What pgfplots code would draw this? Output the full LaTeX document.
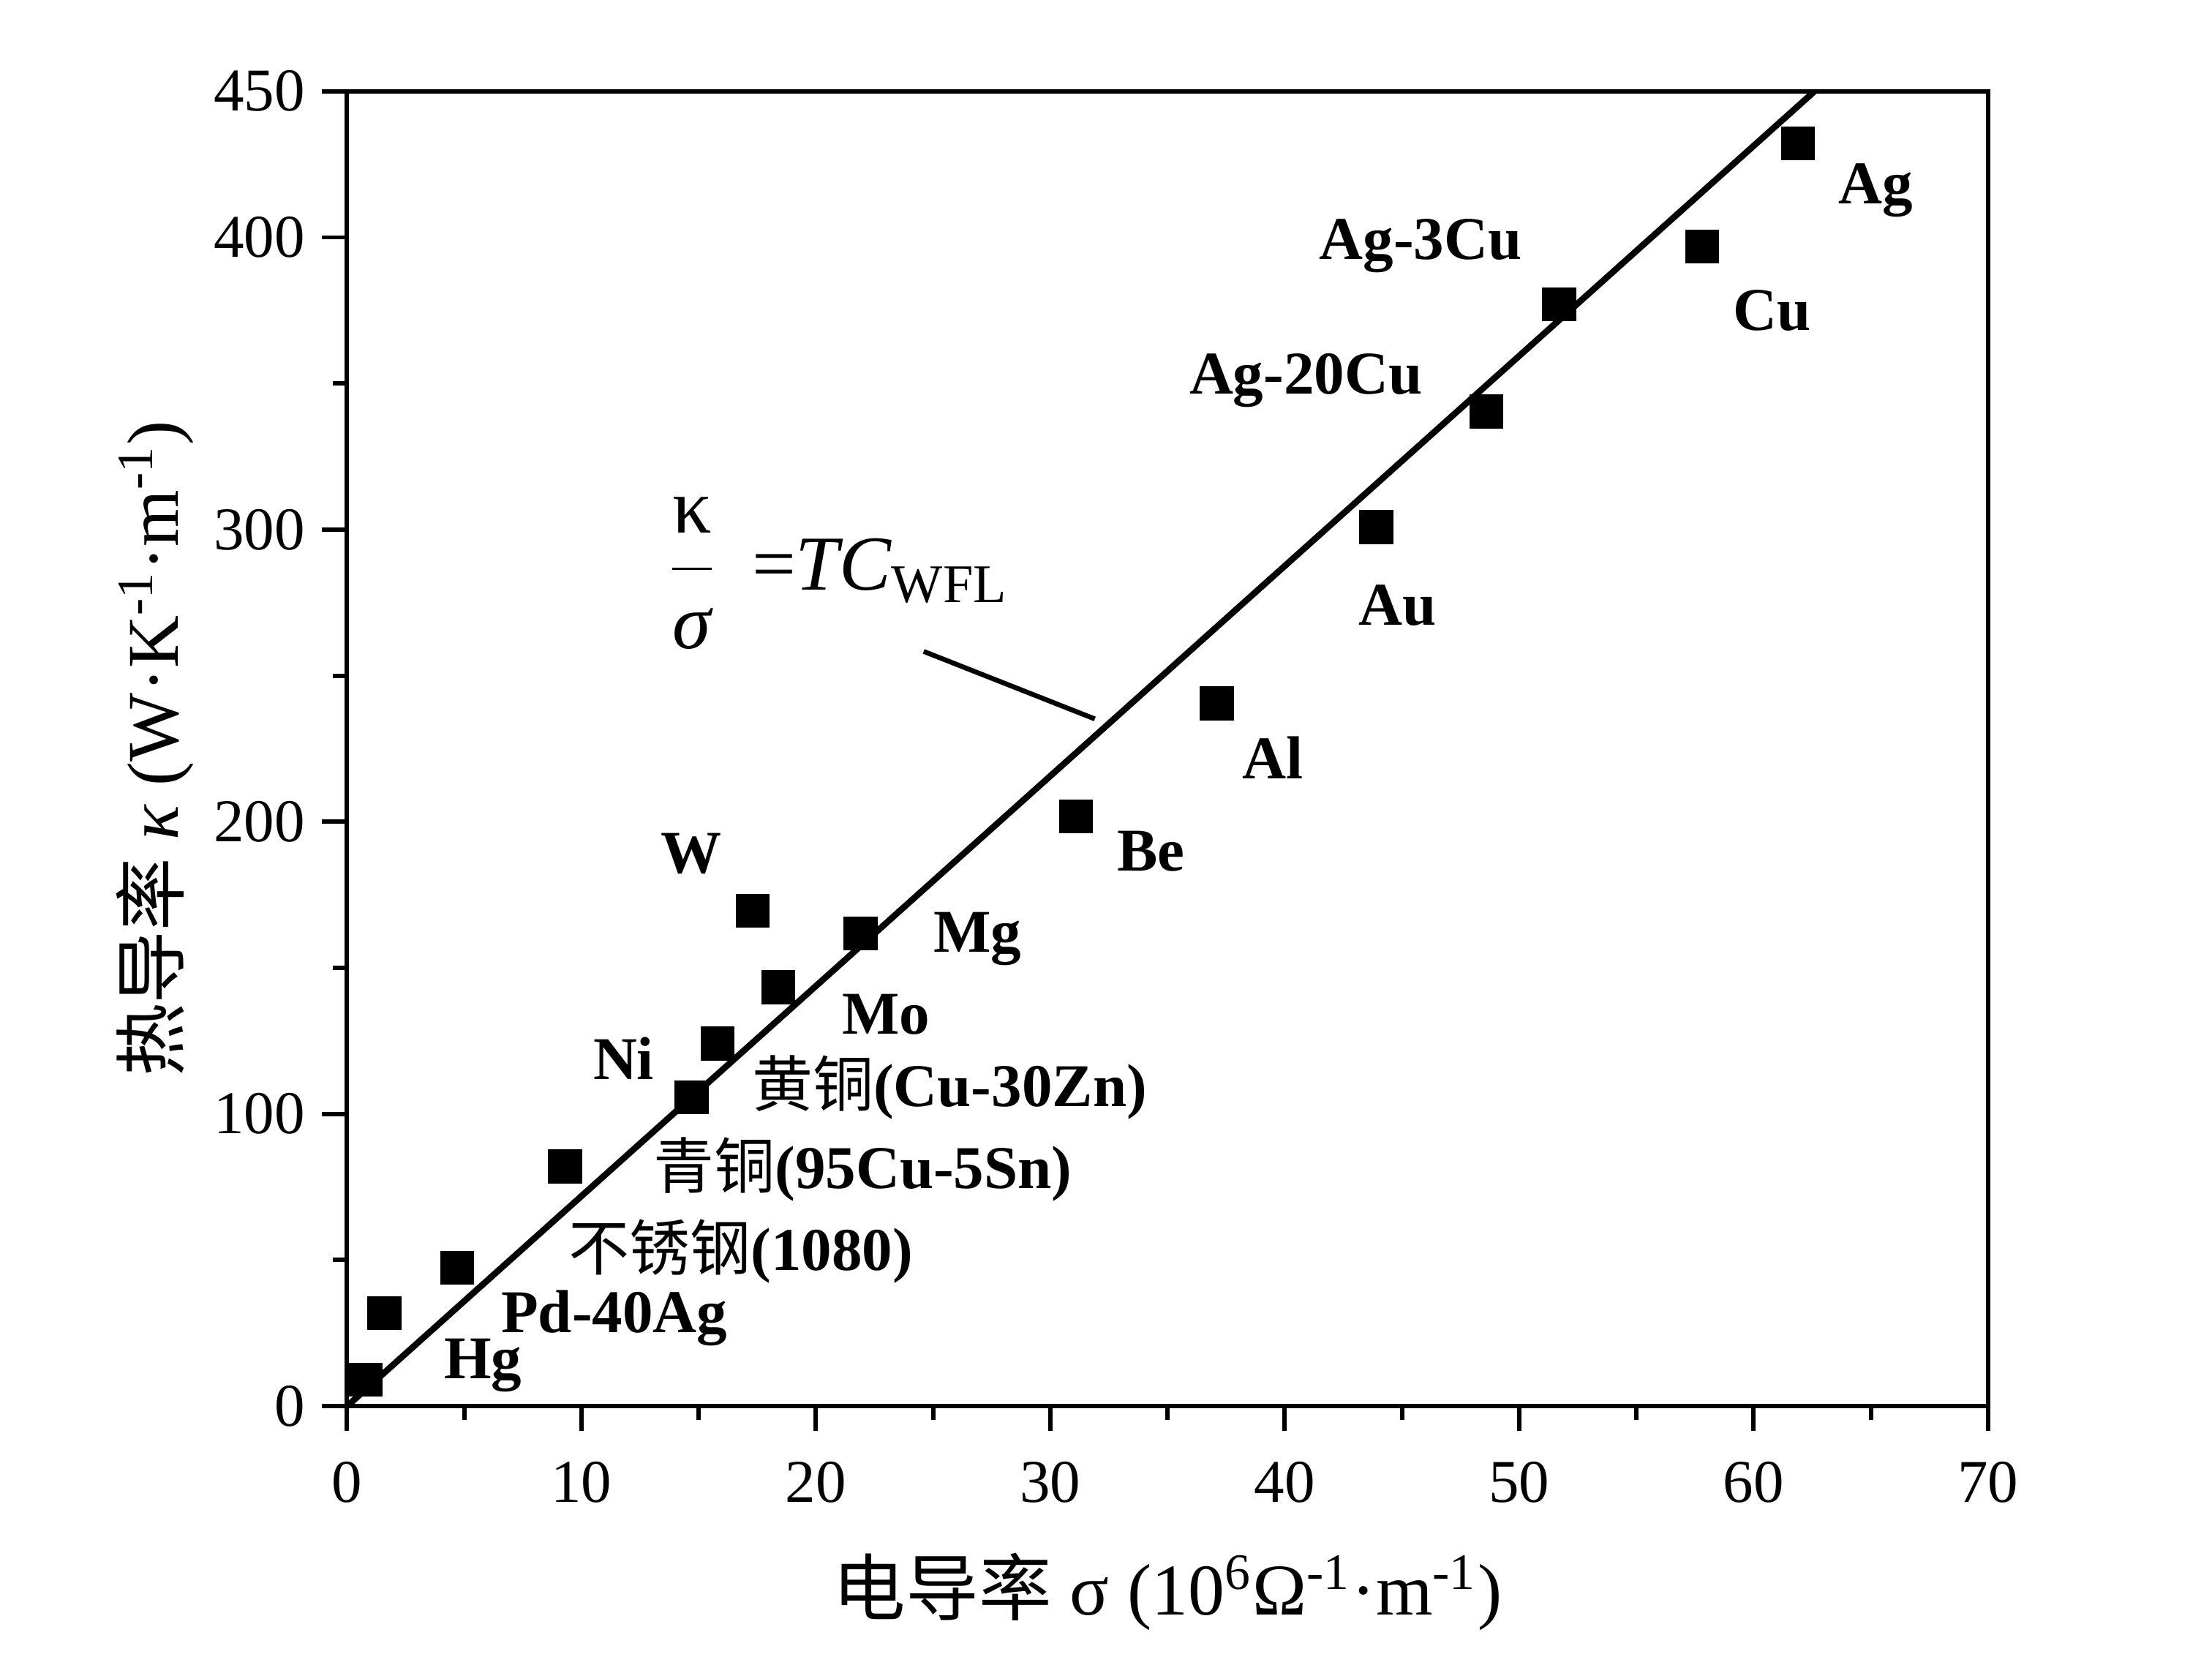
\documentclass[border=0pt]{standalone}
\usepackage{fontspec}
\setmainfont{Liberation Serif}
\newfontfamily\cjk{Noto Sans CJK SC}
\usepackage{pgfplots}
\pgfplotsset{compat=1.18}
\begin{document}
\begin{tikzpicture}
\useasboundingbox (-2.51,-1.867) rectangle (13.49,10.17);
\begin{axis}[
  at={(0,0)}, anchor=south west,
  scale only axis, width=11.87cm, height=9.51cm,
  xmin=0, xmax=70, ymin=0, ymax=450,
  xtick={0,10,...,70}, ytick={0,100,200,300,400,450},
  minor xtick={5,15,...,65}, minor ytick={50,150,250,350},
  tick align=outside, xtick pos=left, ytick pos=left,
  major tick length=0.18cm, minor tick length=0.1cm,
  axis line style={line width=0.9pt},
  every tick/.style={black, line width=0.9pt},
  tick label style={font=\fontsize{12.5}{13}\selectfont},
  xticklabel style={yshift=-0.1cm},
  /pgf/number format/assume math mode=true,
  clip=false,
  xlabel={{\cjk 电导率} σ (10\textsuperscript{6}Ω\textsuperscript{-1}·m\textsuperscript{-1})},
  ylabel={{\cjk 热导率} \textit{κ} (W·K\textsuperscript{-1}·m\textsuperscript{-1})},
  label style={font=\fontsize{15}{16}\selectfont},
  xlabel style={at={(axis description cs:0.5,-0.141)}, anchor=center},
  ylabel style={at={(axis description cs:-0.117,0.5)}, anchor=center},
]
\addplot[only marks, mark=square*, mark size=3.3pt, black] coordinates {
(0.8,9) (1.6,31.9) (4.7,47.3) (9.3,82.1) (14.7,105.7) (15.8,124.1)
(17.3,169.5) (18.4,143.4) (21.9,161.8) (31.1,201.8) (37.1,240.5)
(43.9,300.8) (48.6,340.4) (51.7,377.1) (57.8,396.9) (61.9,432.2)
};
\addplot[black, line width=1.3pt] coordinates {(0,0) (62.6,450)};
\draw[black, line width=1pt] (axis cs:24.6,258.3) -- (axis cs:31.9,235.2);
\node[anchor=west, font=\fontsize{16}{17}\selectfont] at (axis cs:12.9,285)
  {$\displaystyle\frac{\mbox{κ}\rule[-4pt]{0pt}{1pt}}{\rule{0pt}{15pt}\mbox{\itshape σ}}$\;\,=\textit{TC}\textsubscript{WFL}};
\begin{scope}[every node/.style={font=\bfseries\fontsize{12.5}{13}\selectfont}]
\node at (axis cs:65.2,416) {Ag};
\node at (axis cs:60.8,375) {Cu};
\node at (axis cs:45.8,397) {Ag-3Cu};
\node at (axis cs:40.9,351) {Ag-20Cu};
\node at (axis cs:44.8,274) {Au};
\node at (axis cs:39.5,222) {Al};
\node at (axis cs:34.3,190) {Be};
\node at (axis cs:26.9,160) {Mg};
\node at (axis cs:23.0,134) {Mo};
\node at (axis cs:14.7,189) {W};
\node at (axis cs:11.8,119) {Ni};
\node at (axis cs:25.7,109) {{\cjk\mdseries 黄铜}(Cu-30Zn)};
\node at (axis cs:22.0,81) {{\cjk\mdseries 青铜}(95Cu-5Sn)};
\node at (axis cs:16.8,53) {{\cjk\mdseries 不锈钢}(1080)};
\node at (axis cs:11.4,30) {Pd-40Ag};
\node at (axis cs:5.8,14) {Hg};
\end{scope}
\end{axis}
\end{tikzpicture}
\end{document}
